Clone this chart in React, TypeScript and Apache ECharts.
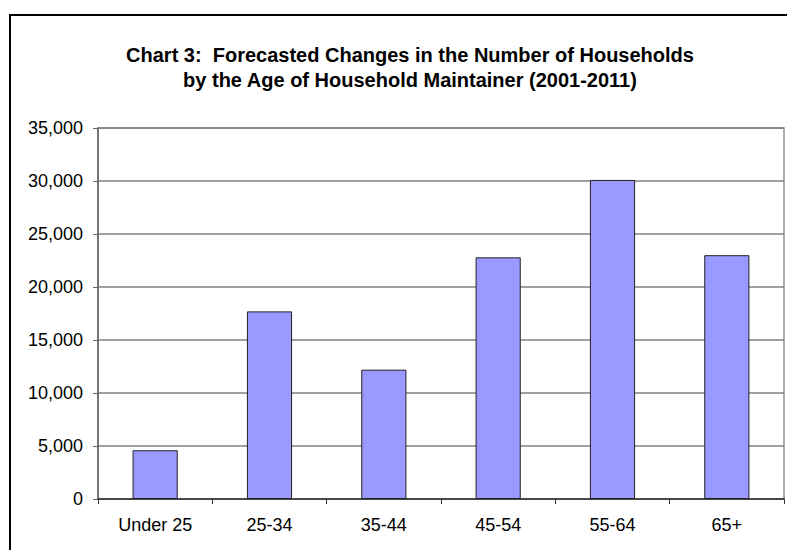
import React, { useEffect, useRef } from "react";
import * as echarts from "echarts";

const categories = ["Under 25", "25-34", "35-44", "45-54", "55-64", "65+"];
const households = [4600, 17700, 12200, 22800, 30100, 23000];
const titleLines = [
  "Chart 3:  Forecasted Changes in the Number of Households",
  "by the Age of Household Maintainer (2001-2011)",
];

const FONT = "'Liberation Sans', Arial, Helvetica, sans-serif";

export default function App() {
  const ref = useRef<HTMLDivElement>(null);
  useEffect(() => {
    document.body.style.margin = "0";
    const chart = echarts.init(ref.current!, null, { renderer: "svg" });
    chart.setOption({
      animation: false,
      backgroundColor: "#ffffff",
      title: {
        text: titleLines.join("\n"),
        left: 405,
        top: 37,
        textAlign: "center",
        textStyle: {
          fontFamily: FONT,
          fontSize: 20,
          fontWeight: "bold",
          color: "#000",
          lineHeight: 25,
        },
      },
      graphic: [
        {
          type: "rect",
          shape: { x: 10, y: 15, width: 800, height: 600 },
          style: { fill: "none", stroke: "#000", lineWidth: 2 },
          silent: true,
        },
      ],
      grid: {
        left: 98,
        top: 128,
        right: 3,
        bottom: 51,
        show: true,
        borderColor: "#909090",
        borderWidth: 1.5,
        backgroundColor: "transparent",
      },
      xAxis: {
        type: "category",
        data: categories,
        axisLine: { show: true, lineStyle: { color: "#333", width: 1.5 } },
        axisTick: { show: true, length: 5, lineStyle: { color: "#333", width: 1 } },
        axisLabel: { fontFamily: FONT, fontSize: 18, color: "#000", margin: 17 },
      },
      yAxis: {
        type: "value",
        min: 0,
        max: 35000,
        interval: 5000,
        axisLine: { show: true, lineStyle: { color: "#666", width: 1.5 } },
        axisTick: { show: true, length: 5, lineStyle: { color: "#666", width: 1 } },
        axisLabel: {
          fontFamily: FONT,
          fontSize: 18,
          color: "#000",
          margin: 15,
          formatter: (v: number) => v.toLocaleString("en-US"),
        },
        splitLine: { show: true, lineStyle: { color: "#808080", width: 1.5 } },
      },
      series: [
        {
          type: "bar",
          data: households,
          barWidth: "39.5%",
          itemStyle: { color: "#9999FF", borderColor: "#222", borderWidth: 1 },
        },
      ],
    });
    return () => chart.dispose();
  }, []);
  return <div ref={ref} style={{ width: 787, height: 550 }} />;
}
